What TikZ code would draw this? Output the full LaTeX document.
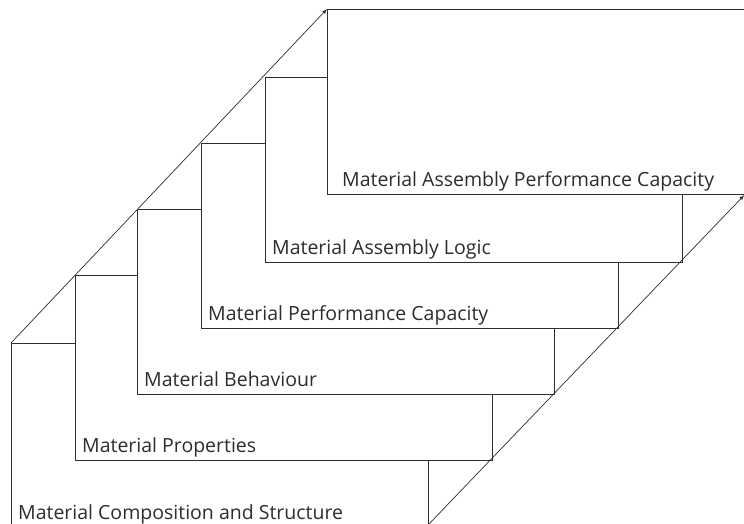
\documentclass[tikz,border=0pt]{standalone}
\usepackage{fontspec}
\setmainfont{Open Sans}
\usepackage{tikz}
\usetikzlibrary{arrows,positioning}
\definecolor{edgegray}{RGB}{45, 45, 45}
\tikzstyle{stepbox} = [draw=edgegray, line width=1.2pt, fill=white, anchor=north west, inner sep=0pt, minimum width=417pt, minimum height=185pt]
\tikzstyle{boxlabel} = [anchor=base west, inner sep=0pt, text=edgegray, font=\fontsize{19.5}{23}\selectfont]
\tikzstyle{tedge} = [draw=edgegray, line width=0.7pt, >=latex, ->]

\begin{document}
\begin{tikzpicture}[x=1pt, y=1pt]
\useasboundingbox (0,0) rectangle (744,524);
\clip (0,0) rectangle (744,524);

% boxes =============================
\node[stepbox] (b1) at (11,181) {};
\node[stepbox] (b2) at (75,249) {};
\node[stepbox] (b3) at (137,315) {};
\node[stepbox] (b4) at (201,381) {};
\node[stepbox] (b5) at (265,447) {};
\node[stepbox] (b6) at (327,515) {};

% labels
\node[boxlabel] (t1) at ([shift={(7,10)}]b1.south west) {Material Composition and Structure};
\node[boxlabel] (t2) at ([shift={(7,9)}]b2.south west) {Material Properties};
\node[boxlabel] (t3) at ([shift={(7,9)}]b3.south west) {Material Behaviour};
\node[boxlabel] (t4) at ([shift={(7,9)}]b4.south west) {Material Performance Capacity};
\node[boxlabel] (t5) at ([shift={(7,9)}]b5.south west) {Material Assembly Logic};
\node[boxlabel] (t6) at ([shift={(15,9)}]b6.south west) {Material Assembly Performance Capacity};

%edges
\coordinate (foot) at (429,0);
\path[tedge] (b1.north west) -- (b6.north west);
\path[tedge] (foot) -- ([xshift=-1pt]b6.south east);

\end{tikzpicture}
\end{document}
